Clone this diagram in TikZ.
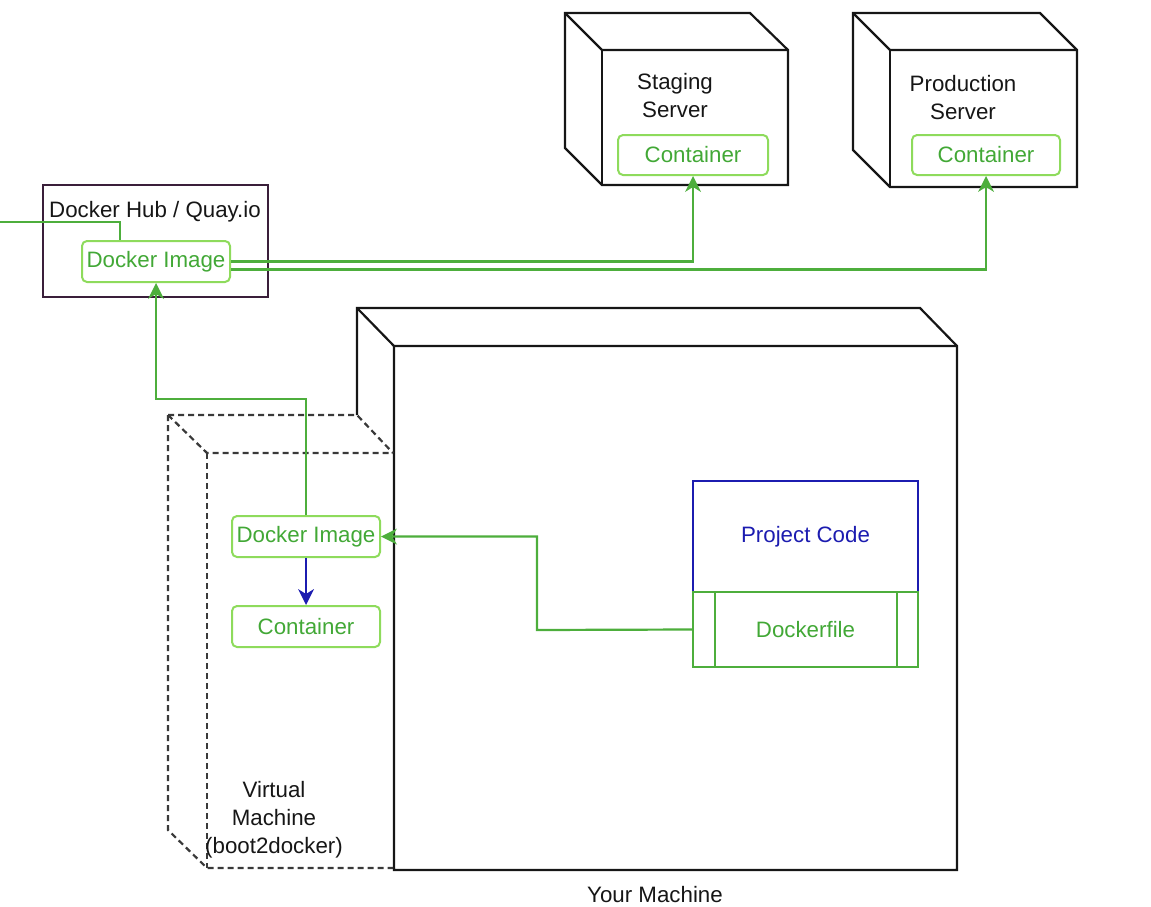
\documentclass[tikz,border=0pt]{standalone}
\usepackage{fontspec}
\setmainfont{Liberation Sans}
\usetikzlibrary{arrows.meta}
\definecolor{gline}{HTML}{4DAE3C}
\definecolor{gbord}{HTML}{8EDB5C}
\definecolor{gtext}{HTML}{42A836}
\definecolor{bcode}{HTML}{1C1CB0}
\definecolor{hubb}{HTML}{3A1F3A}
\definecolor{ink}{HTML}{161616}
\begin{document}
\begin{tikzpicture}[x=1pt,y=-1pt,
  font=\fontsize{22.3}{28}\selectfont,
  cube/.style={draw=ink,line width=2.2pt,line join=miter},
  vmline/.style={draw=ink!85,line width=2.2pt,dash pattern=on 6pt off 4pt},
  gbox/.style={draw=gbord,line width=2pt,rounded corners=5pt,text=gtext,minimum width=148pt,minimum height=41pt,inner sep=0pt},
  gconn/.style={draw=gline,line width=2.2pt},
  tipshape/.style={-{Stealth[length=16pt,width=16pt,inset=5pt,line width=0pt]}},
  garrow/.style={gconn,tipshape},
  barrow/.style={draw=bcode,line width=2.2pt,tipshape},
  lbl/.style={text=ink,align=center,inner sep=0pt}
]
\useasboundingbox (0,0) rectangle (1151,907);

% Staging server cube
\draw[cube] (565,13) -- (750,13) -- (788,50) -- (788,185) -- (602,185) -- (565,148) -- cycle;
\draw[cube] (565,13) -- (602,50) -- (788,50);
\draw[cube] (602,50) -- (602,185);
\node[lbl] (stlbl) at (675,96) {Staging\\Server};
\node[gbox,minimum width=150pt,minimum height=40pt] (stcont) at (693,155) {Container};

% Production server cube
\draw[cube] (853,13) -- (1040,13) -- (1077,50) -- (1077,187) -- (890,187) -- (853,150) -- cycle;
\draw[cube] (853,13) -- (890,50) -- (1077,50);
\draw[cube] (890,50) -- (890,187);
\node[lbl] (prlbl) at (963,98) {Production\\Server};
\node[gbox,minimum height=40pt] (prcont) at (986,155) {Container};

% Docker Hub box
\node[draw=hubb,line width=2pt,minimum width=225pt,minimum height=112pt,inner sep=0pt] (hub) at (155.5,241) {};
\node[lbl] (hublbl) at (155,212) {Docker Hub / Quay.io};
\node[gbox] (hubimg) at (156,261.5) {Docker Image};

% Your machine cube
\draw[cube] (357,415) -- (357,308) -- (920,308) -- (957,346) -- (957,870) -- (394,870) -- (394,346);
\draw[cube] (357,308) -- (394,346) -- (957,346);
\node[lbl] (mlbl) at (655,895) {Your Machine};

% Virtual machine (dashed cube)
\draw[vmline] (168,415) -- (357,415) -- (393,453);
\draw[vmline] (168,415) -- (207,453) -- (393,453);
\draw[vmline] (168,415) -- (168,830) -- (207,868) -- (393,868);
\draw[vmline] (207,453) -- (207,868);
\node[lbl] (vmlbl) at (274,820) {Virtual\\Machine\\(boot2docker)};
\node[gbox] (vmimg) at (306,536.5) {Docker Image};
\node[gbox] (vmcont) at (306,626.5) {Container};

% Project code / Dockerfile
\node[draw=bcode,line width=2pt,minimum width=225pt,minimum height=111pt,inner sep=0pt,text=bcode] (code) at (805.5,536.5) {Project Code};
\node[draw=gline,line width=2pt,minimum width=225pt,minimum height=75pt,inner sep=0pt,text=gtext] (df) at (805.5,629.5) {Dockerfile};
\draw[gconn,line width=2pt] ([xshift=23pt]df.north west) -- ([xshift=23pt]df.south west);
\draw[gconn,line width=2pt] ([xshift=-22pt]df.north east) -- ([xshift=-22pt]df.south east);

% Connectors
\coordinate (j1) at (537,630);
\draw[garrow] (df.west) -- (j1) |- (vmimg.east);
\coordinate (j2) at (200,399);
\draw[garrow] (vmimg.north) |- (j2) -| (hubimg.south);
\draw[garrow] (hubimg.east) -| (stcont.south);
\draw[garrow] ([yshift=-8pt]hubimg.east) -| (prcont.south);
\coordinate (lft) at (0,222);
\draw[gconn] (lft) -| ([xshift=-36pt]hubimg.north);
\draw[barrow] (vmimg.south) -- (vmcont.north);
\end{tikzpicture}
\end{document}
